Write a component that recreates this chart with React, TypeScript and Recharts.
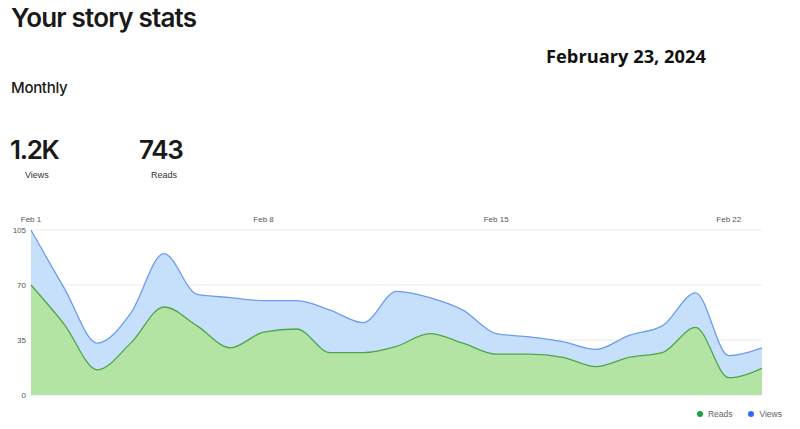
import React from 'react';
import { AreaChart, Area, XAxis, YAxis, CartesianGrid, Legend } from 'recharts';

const days = [
  'Feb 1', 'Feb 2', 'Feb 3', 'Feb 4', 'Feb 5', 'Feb 6', 'Feb 7', 'Feb 8',
  'Feb 9', 'Feb 10', 'Feb 11', 'Feb 12', 'Feb 13', 'Feb 14', 'Feb 15', 'Feb 16',
  'Feb 17', 'Feb 18', 'Feb 19', 'Feb 20', 'Feb 21', 'Feb 22', 'Feb 23',
];
const views = [105, 68, 33, 52, 90, 64, 62, 60, 60, 54, 46, 66, 62, 54, 39, 37, 34, 29, 38, 44, 65, 25, 30];
const reads = [70, 45, 16, 33, 56, 44, 30, 40, 42, 27, 27, 31, 39, 33, 26, 26, 24, 18, 24, 27, 43, 11, 17];
const yTicks = [0, 35, 70, 105];

const data = days.map((day, i) => ({ day, views: views[i], reads: reads[i] }));

const TEXT = '#191919';
const AXIS_FONT = { fontSize: 8, fill: '#555', fontFamily: 'Liberation Sans, Arial, sans-serif' };

const legendItems = [
  { label: 'Reads', color: '#1e9e3c' },
  { label: 'Views', color: '#2c6ef0' },
];

// custom legend so the dots and spacing look like the original
const renderLegend = () => (
  <div style={{ display: 'flex', justifyContent: 'flex-end', gap: 16, fontFamily: 'Liberation Sans, Arial, sans-serif', fontSize: 8.5, color: '#666' }}>
    {legendItems.map((item) => (
      <span key={item.label} style={{ display: 'flex', alignItems: 'center', gap: 5 }}>
        <span style={{ width: 6, height: 6, borderRadius: '50%', background: item.color, display: 'inline-block' }} />
        {item.label}
      </span>
    ))}
  </div>
);

export default function App() {
  return (
    <div style={{ position: 'absolute', left: 0, top: 0, width: 800, height: 429, background: '#fff', overflow: 'hidden' }}>
      <div style={{ position: 'absolute', left: 11, top: 2, fontFamily: 'Inter, sans-serif', fontWeight: 600, fontSize: 26, letterSpacing: -0.8, color: TEXT }}>
        Your story stats
      </div>
      <div style={{ position: 'absolute', left: 546, top: 43, fontFamily: 'Open Sans, sans-serif', fontWeight: 700, fontSize: 18.3, color: '#111' }}>
        February 23, 2024
      </div>
      <div style={{ position: 'absolute', left: 11, top: 78, fontFamily: 'Inter, sans-serif', fontWeight: 500, fontSize: 15, letterSpacing: -0.3, color: TEXT }}>
        Monthly
      </div>
      <div style={{ position: 'absolute', left: 10, top: 134, fontFamily: 'Inter, sans-serif', fontWeight: 600, fontSize: 26, letterSpacing: -1.3, color: TEXT }}>
        1.2K
      </div>
      <div style={{ position: 'absolute', left: 25, top: 170, fontFamily: 'Liberation Sans, Arial, sans-serif', fontSize: 9, color: '#333' }}>
        Views
      </div>
      <div style={{ position: 'absolute', left: 139, top: 134, fontFamily: 'Inter, sans-serif', fontWeight: 600, fontSize: 26, letterSpacing: -1.3, color: TEXT }}>
        743
      </div>
      <div style={{ position: 'absolute', left: 151, top: 170, fontFamily: 'Liberation Sans, Arial, sans-serif', fontSize: 9, color: '#333' }}>
        Reads
      </div>

      <div style={{ position: 'absolute', left: 0, top: 0 }}>
        <AreaChart width={800} height={429} data={data} margin={{ top: 210, right: 38, bottom: 24, left: 0 }}>
          <CartesianGrid vertical={false} stroke="#ebebeb" />
          <XAxis
            dataKey="day"
            orientation="top"
            height={20}
            interval={6}
            axisLine={false}
            tickLine={false}
            tick={AXIS_FONT}
          />
          <YAxis
            width={31}
            domain={[0, 105]}
            ticks={yTicks}
            axisLine={false}
            tickLine={false}
            tickSize={3}
            tick={AXIS_FONT}
          />
          <Area
            type="monotone"
            dataKey="views"
            name="Views"
            stroke="#6c9cf0"
            strokeWidth={1.3}
            fill="#c6e0fb"
            fillOpacity={1}
            isAnimationActive={false}
          />
          <Area
            type="monotone"
            dataKey="reads"
            name="Reads"
            stroke="#4fa64a"
            strokeWidth={1.3}
            fill="#b3e4a3"
            fillOpacity={1}
            isAnimationActive={false}
          />
          <Legend verticalAlign="bottom" align="right" content={renderLegend} wrapperStyle={{ right: 18, bottom: 10 }} />
        </AreaChart>
      </div>
    </div>
  );
}
